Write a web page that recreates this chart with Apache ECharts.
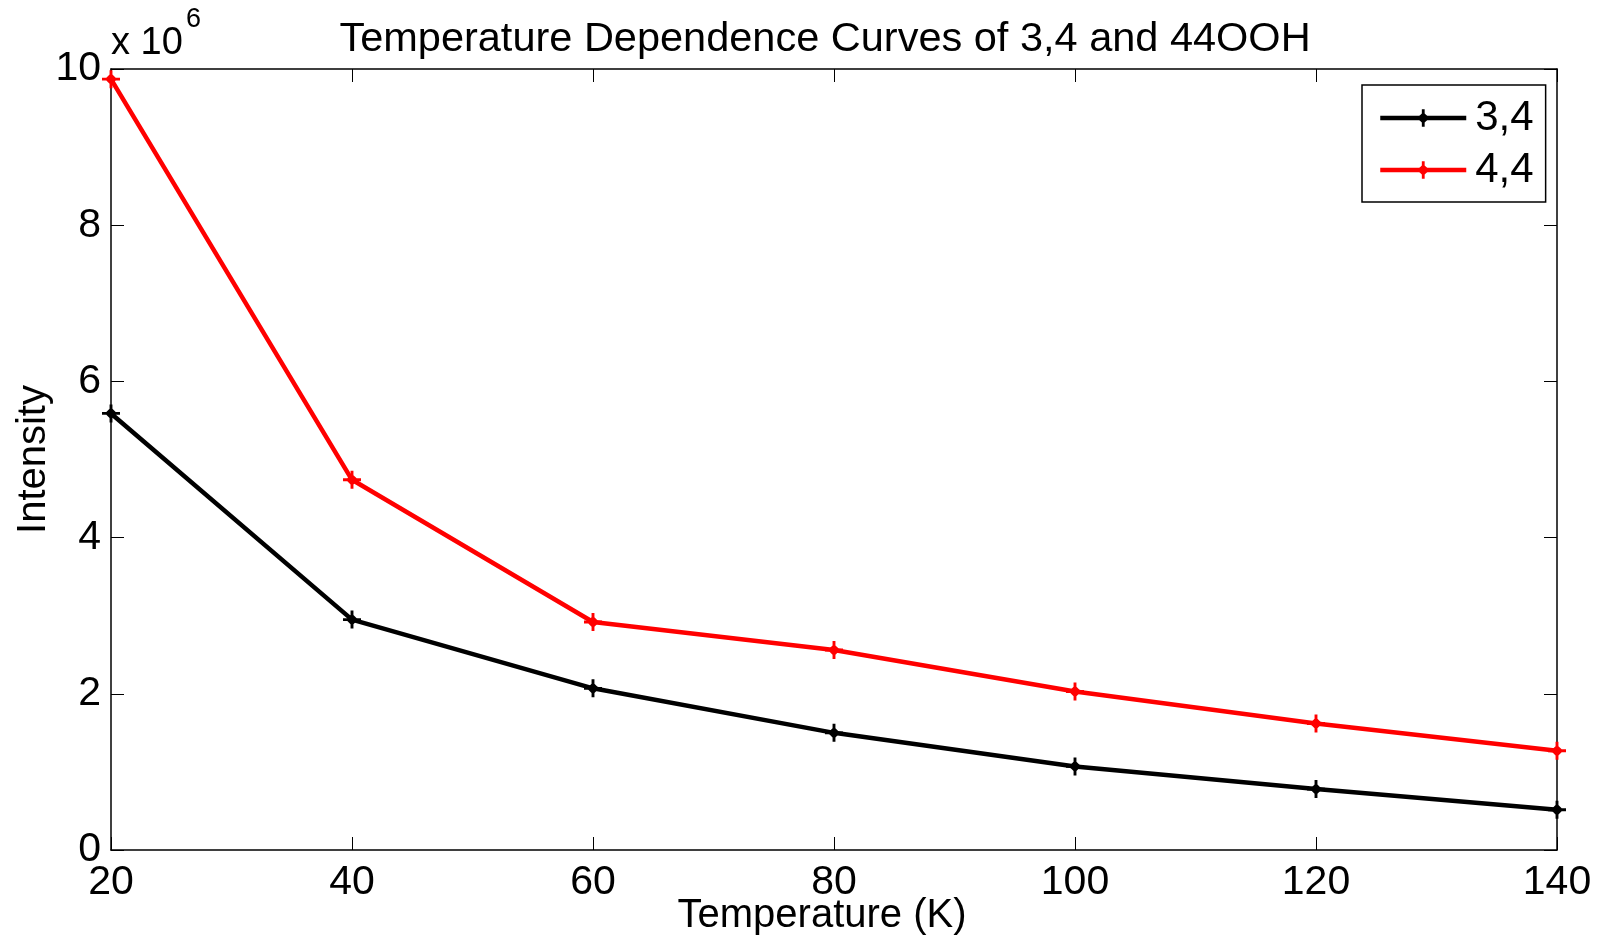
<!DOCTYPE html>
<html>
<head>
<meta charset="utf-8">
<script src="https://cdn.jsdelivr.net/npm/echarts@6/dist/echarts.min.js"></script>
<style>
html,body{margin:0;padding:0;background:#fff;}
#c{width:1606px;height:940px;}
</style>
</head>
<body>
<div id="c"></div>
<script>
const temperatures = [20, 40, 60, 80, 100, 120, 140];
const series34 = [5.59e6, 2.95e6, 2.07e6, 1.50e6, 1.07e6, 0.78e6, 0.515e6];
const series44 = [9.87e6, 4.74e6, 2.92e6, 2.56e6, 2.03e6, 1.62e6, 1.27e6];
const seriesNames = ['3,4', '4,4'];
const titleText = 'Temperature Dependence Curves of 3,4 and 44OOH';
const xLabel = 'Temperature (K)';
const yLabel = 'Intensity';

const FONT = 'Liberation Sans, Arial, sans-serif';
const markerPath = 'path://M4.2,0 H5.8 V2.4 L7.6,4.2 H10 V5.8 H7.6 L5.8,7.6 V10 H4.2 V7.6 L2.4,5.8 H0 V4.2 H2.4 L4.2,2.4 Z';

const chart = echarts.init(document.getElementById('c'), null, {renderer: 'canvas'});

function pairs(vals) { return temperatures.map((t, i) => [t, vals[i]]); }

const axisCommon = {
  axisLine: {show: true, onZero: false, lineStyle: {color: '#000', width: 1.5}},
  axisTick: {show: true, inside: true, length: 13, lineStyle: {color: '#000', width: 1}},
  splitLine: {show: false}
};

chart.setOption({
  animation: false,
  backgroundColor: '#fff',
  title: {
    text: titleText,
    left: 820, top: 14, textAlign: 'center',
    textStyle: {fontFamily: FONT, fontSize: 41.5, fontWeight: 'normal', color: '#000'}
  },
  grid: {left: 111, top: 69, right: 49, bottom: 90, containLabel: false, outerBoundsMode: 'none'},
  legend: {
    data: seriesNames,
    left: 1362, top: 85,
    orient: 'vertical',
    backgroundColor: '#fff',
    borderColor: '#000', borderWidth: 1.5,
    padding: [12, 12, 11, 16],
    itemWidth: 86, itemHeight: 22, itemGap: 10,
    lineStyle: {width: 4.5},
    textStyle: {fontFamily: FONT, fontSize: 42, color: '#000', padding: [0, 0, 0, 4]}
  },
  xAxis: [
    Object.assign({
      type: 'value', min: 20, max: 140, interval: 20, position: 'bottom',
      name: xLabel, nameLocation: 'middle', nameGap: 46, nameMoveOverlap: false,
      nameTextStyle: {fontFamily: FONT, fontSize: 40, color: '#000', padding: [0, 24, 0, 0]},
      axisLabel: {fontFamily: FONT, fontSize: 41, color: '#000', margin: 12}
    }, axisCommon),
    Object.assign({
      type: 'value', min: 20, max: 140, interval: 20, position: 'top',
      axisLabel: {show: false}
    }, axisCommon)
  ],
  yAxis: [
    Object.assign({
      type: 'value', min: 0, max: 10e6, interval: 2e6, position: 'left',
      name: yLabel, nameLocation: 'middle', nameGap: 57, nameRotate: 90, nameMoveOverlap: false,
      nameTextStyle: {fontFamily: FONT, fontSize: 40, color: '#000'},
      axisLabel: {fontFamily: FONT, fontSize: 41, color: '#000', margin: 10,
        formatter: v => String(Math.round(v / 1e6))}
    }, axisCommon),
    Object.assign({
      type: 'value', min: 0, max: 10e6, interval: 2e6, position: 'right',
      axisLabel: {show: false}
    }, axisCommon)
  ],
  series: [
    {
      name: seriesNames[0], type: 'line', data: pairs(series34),
      xAxisIndex: 0, yAxisIndex: 0,
      symbol: markerPath, symbolSize: 18, showAllSymbol: true,
      lineStyle: {color: '#000', width: 4.5},
      itemStyle: {color: '#000'},
      clip: false, z: 3
    },
    {
      name: seriesNames[1], type: 'line', data: pairs(series44),
      xAxisIndex: 0, yAxisIndex: 0,
      symbol: markerPath, symbolSize: 18, showAllSymbol: true,
      lineStyle: {color: '#ff0000', width: 4.5},
      itemStyle: {color: '#ff0000'},
      clip: false, z: 3
    }
  ],
  graphic: [
    {type: 'text', left: 111, top: 25,
     style: {text: 'x 10', fontFamily: FONT, fontSize: 38, fill: '#000'}},
    {type: 'text', left: 186, top: 6,
     style: {text: '6', fontFamily: FONT, fontSize: 27, fill: '#000'}}
  ]
});
</script>
</body>
</html>
